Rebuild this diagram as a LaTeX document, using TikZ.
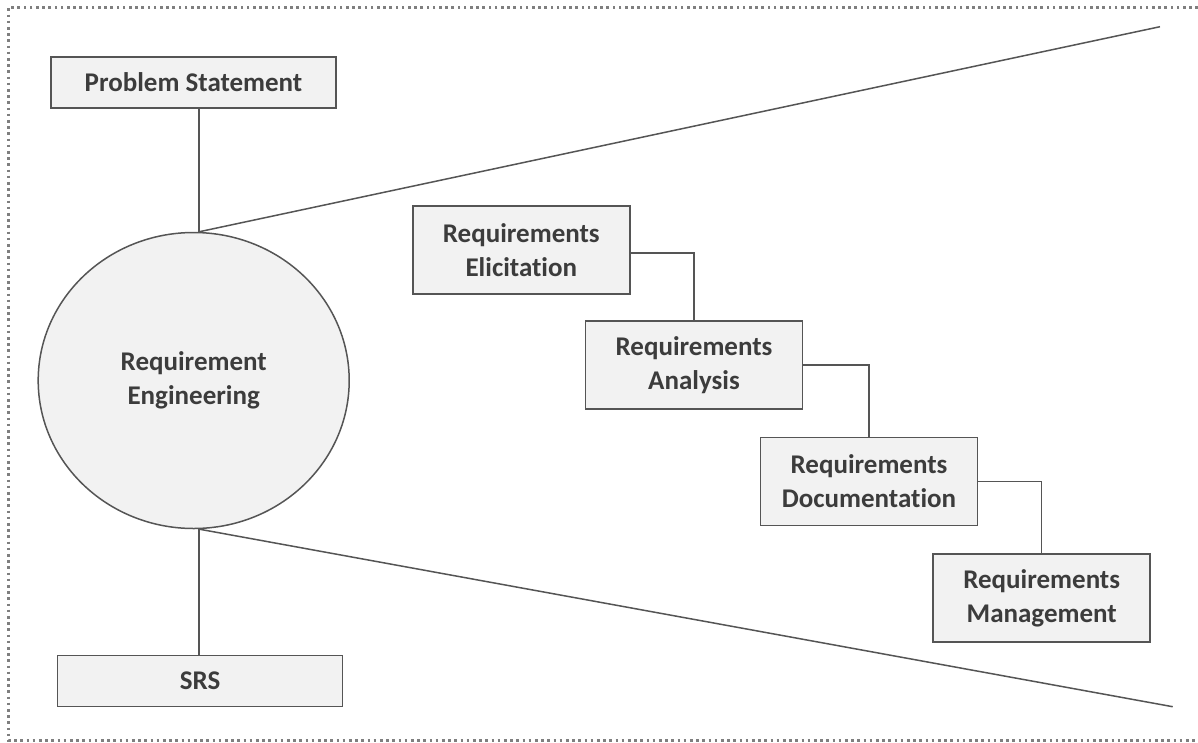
\documentclass[tikz,border=0pt]{standalone}
\usepackage{fontspec}
\setmainfont{Carlito}[Ligatures=NoCommon]
\usetikzlibrary{shapes.geometric}

\definecolor{boxfill}{HTML}{F2F2F2}
\definecolor{edge}{HTML}{555555}
\definecolor{label}{HTML}{3C3C3C}
\definecolor{frame}{HTML}{7F7F7F}

\tikzset{
  base/.style={draw=edge, line width=1.5pt, fill=boxfill, inner sep=0pt,
    text=label, font=\fontsize{27}{34}\selectfont\bfseries, align=center},
  wide/.style={base, rectangle, minimum width=285pt, minimum height=51pt},
  stepbox/.style={base, rectangle, minimum width=217pt, minimum height=88pt},
  hub/.style={base, ellipse, minimum width=311pt, minimum height=296pt},
  link/.style={draw=edge, line width=1.5pt},
  outline/.style={draw=frame, line width=2.6pt, dash pattern=on 2.6pt off 3.6pt}
}

\begin{document}
\begin{tikzpicture}[x=1pt, y=-1pt]
  \useasboundingbox (0,0) rectangle (1198,742);

  % dotted frame, open on the right
  \draw[outline] (1198,7.3) -- (8.6,7.3) -- (8.6,740.6) -- (1198,740.6);

  % central process and its input/output
  \node[hub]  (re) at (193.7,380.5) {Requirement\\Engineering};
  \node[wide] (ps) at (193.5,82.5)  {Problem Statement};
  \node[wide] (srs) at (200,681)    {SRS};

  % the four activities
  \node[stepbox] (eli) at (521.3,250)   {Requirements\\Elicitation};
  \node[stepbox] (ana) at (694,365)     {Requirements\\Analysis};
  \node[stepbox] (doc) at (869,481.5)   {Requirements\\Documentation};
  \node[stepbox] (man) at (1041.7,598)  {Requirements\\Management};

  % ends of the widening funnel
  \coordinate (ftop) at (1160,26.7);
  \coordinate (fbot) at (1172.7,706.7);
  \coordinate (retop) at ([xshift=5.5pt]re.north);
  \coordinate (rebot) at ([xshift=5.5pt]re.south);

  \draw[link] (retop |- ps.south) -- (retop);
  \draw[link] (rebot) -- (rebot |- srs.north);
  \draw[link] (retop) -- (ftop);
  \draw[link] ([xshift=6pt]re.south) -- (fbot);

  % staircase connectors
  \draw[link] ([yshift=-3pt]eli.east) -| (ana.north);
  \draw[link] (ana.east) -| (doc.north);
  \draw[link] (doc.east) -| (man.north);
\end{tikzpicture}
\end{document}
